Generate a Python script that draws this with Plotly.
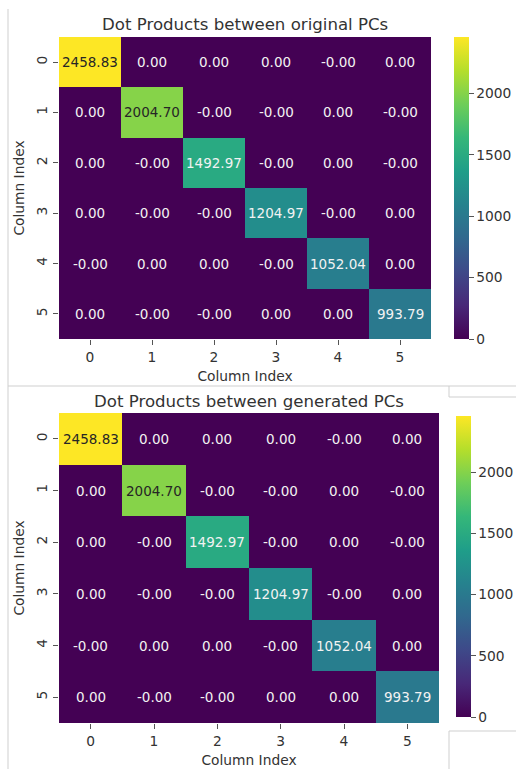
import plotly.graph_objects as go

W, H = 516, 769

# ---------------- data ----------------
col_labels = ["0", "1", "2", "3", "4", "5"]
row_labels = ["0", "1", "2", "3", "4", "5"]

original_pcs = [
    [2458.83, 0.0, 0.0, 0.0, -0.0, 0.0],
    [0.0, 2004.70, -0.0, -0.0, 0.0, -0.0],
    [0.0, -0.0, 1492.97, -0.0, 0.0, -0.0],
    [0.0, -0.0, -0.0, 1204.97, -0.0, 0.0],
    [-0.0, 0.0, 0.0, -0.0, 1052.04, 0.0],
    [0.0, -0.0, -0.0, 0.0, 0.0, 993.79],
]
generated_pcs = [
    [2458.83, 0.0, 0.0, 0.0, -0.0, 0.0],
    [0.0, 2004.70, -0.0, -0.0, 0.0, -0.0],
    [0.0, -0.0, 1492.97, -0.0, 0.0, -0.0],
    [0.0, -0.0, -0.0, 1204.97, -0.0, 0.0],
    [-0.0, 0.0, 0.0, -0.0, 1052.04, 0.0],
    [0.0, -0.0, -0.0, 0.0, 0.0, 993.79],
]
titles = ["Dot Products between original PCs", "Dot Products between generated PCs"]
axis_title = "Column Index"
cbar_ticks = [0, 500, 1000, 1500, 2000]

# ---------------- layout helpers ----------------
def px_x(p):
    return p / W

def px_y(p):
    return 1 - p / H

FONT = "DejaVu Sans"
TXT = "#333333"
TICK_SIZE = 13.8
TITLE_SIZE = 16.6
ANN_SIZE = 13.5

panels = [
    # (data, title, heat box px (x0,x1,y0,y1), cbar box px (x0,y0,y1), title center px (x,y), xtitle standoff)
    (original_pcs, titles[0], (59, 431, 37, 339), (454, 37, 339), (245, 24), 7),
    (generated_pcs, titles[1], (59, 439, 413, 723), (456, 416, 717), (249, 401), 7),
]

fig = go.Figure()
annotations = []
layout = {}

for k, (data, title, hb, cb, tc, xt_sd) in enumerate(panels):
    sfx = "" if k == 0 else str(k + 1)
    xa, ya = "x" + sfx, "y" + sfx
    zmax = max(max(r) for r in data)
    zmin = min(min(r) for r in data)
    fig.add_trace(go.Heatmap(
        z=data,
        x=list(range(len(col_labels))),
        y=list(range(len(row_labels))),
        colorscale="Viridis",
        zmin=zmin, zmax=zmax,
        xaxis=xa, yaxis=ya,
        hoverinfo="skip",
        colorbar=dict(
            thickness=15,
            thicknessmode="pixels",
            len=(cb[2] - cb[1]) / H,
            lenmode="fraction",
            x=px_x(cb[0]), xanchor="left",
            y=px_y((cb[1] + cb[2]) / 2), yanchor="middle",
            xpad=0, ypad=0,
            outlinewidth=0,
            ticks="outside", ticklen=5, tickwidth=1, tickcolor="#555555",
            tickvals=cbar_ticks,
            ticktext=[str(t) for t in cbar_ticks],
            tickfont=dict(family=FONT, size=TICK_SIZE, color=TXT),
        ),
    ))
    # cell annotations
    for i, row in enumerate(data):
        for j, v in enumerate(row):
            frac = (v - zmin) / (zmax - zmin)
            annotations.append(dict(
                x=j, y=i, xref=xa, yref=ya,
                text=f"{v:.2f}", showarrow=False,
                font=dict(family=FONT, size=ANN_SIZE,
                          color="#262626" if frac > 0.7 else "#f2f2f2"),
            ))
    # title
    annotations.append(dict(
        x=px_x(tc[0]), y=px_y(tc[1]), xref="paper", yref="paper",
        text=title, showarrow=False, xanchor="center", yanchor="middle",
        font=dict(family=FONT, size=TITLE_SIZE, color=TXT),
    ))
    axkey = "xaxis" + sfx
    aykey = "yaxis" + sfx
    layout[axkey] = dict(
        domain=[px_x(hb[0]), px_x(hb[1])], anchor=ya,
        range=[-0.5, len(col_labels) - 0.5],
        tickvals=list(range(len(col_labels))), ticktext=col_labels,
        ticks="outside", ticklen=5, tickwidth=1, tickcolor="#555555",
        tickfont=dict(family=FONT, size=TICK_SIZE, color=TXT),
        showgrid=False, zeroline=False, showline=False,
        title=dict(text=axis_title, font=dict(family=FONT, size=TICK_SIZE, color=TXT), standoff=xt_sd),
    )
    layout[aykey] = dict(
        domain=[px_y(hb[3]), px_y(hb[2])], anchor=xa,
        range=[len(row_labels) - 0.5, -0.5],
        tickvals=list(range(len(row_labels))), ticktext=row_labels,
        tickangle=-90,
        ticks="outside", ticklen=5, tickwidth=1, tickcolor="#555555",
        tickfont=dict(family=FONT, size=TICK_SIZE, color=TXT),
        showgrid=False, zeroline=False, showline=False,
        title=dict(text=axis_title, font=dict(family=FONT, size=TICK_SIZE, color=TXT), standoff=6),
    )

# faint frame lines of the screenshot
line_style = dict(color="#cfcfcf", width=1)
shapes = [
    dict(type="line", xref="paper", yref="paper", x0=px_x(8), x1=px_x(8), y0=px_y(9), y1=px_y(769), line=line_style),
    dict(type="line", xref="paper", yref="paper", x0=px_x(8), x1=px_x(516), y0=px_y(386), y1=px_y(386), line=line_style),
    dict(type="line", xref="paper", yref="paper", x0=px_x(449), x1=px_x(449), y0=px_y(386), y1=px_y(397), line=line_style),
    dict(type="line", xref="paper", yref="paper", x0=px_x(449), x1=px_x(516), y0=px_y(397), y1=px_y(397), line=line_style),
    dict(type="line", xref="paper", yref="paper", x0=px_x(449), x1=px_x(516), y0=px_y(731), y1=px_y(731), line=line_style),
    dict(type="line", xref="paper", yref="paper", x0=px_x(449), x1=px_x(449), y0=px_y(731), y1=px_y(769), line=line_style),
]

fig.update_layout(
    width=W, height=H,
    margin=dict(l=0, r=0, t=0, b=0),
    paper_bgcolor="white", plot_bgcolor="white",
    font=dict(family=FONT, color=TXT),
    showlegend=False,
    annotations=annotations,
    shapes=shapes,
    **layout,
)

fig.write_html(
    "out.html",
    config={"displayModeBar": False},
    post_script="document.body.style.margin='0';document.body.style.overflow='hidden';",
)
